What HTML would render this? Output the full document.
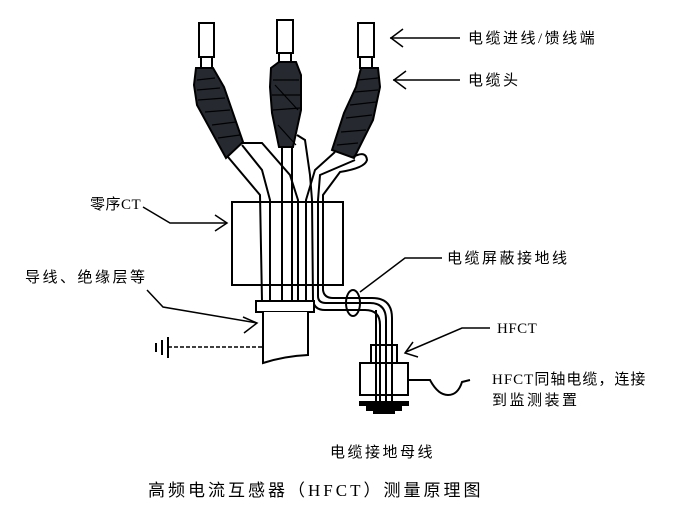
<!DOCTYPE html>
<html><head><meta charset="utf-8"><style>
body{margin:0;background:#fff;}
svg{display:block;}
text{font-family:"Liberation Serif","Noto Sans CJK SC",serif;font-size:15px;fill:#000;letter-spacing:2.5px;}
</style></head><body>
<svg width="675" height="511" viewBox="0 0 675 511" xmlns="http://www.w3.org/2000/svg">
<g fill="none" stroke="#000" stroke-width="2">
<rect x="199" y="23" width="15" height="34" fill="#fff"/>
<rect x="201" y="57" width="11" height="11" fill="#fff"/>
<rect x="277" y="20" width="16" height="33" fill="#fff"/>
<rect x="279" y="53" width="12" height="9" fill="#fff"/>
<rect x="358" y="23" width="16" height="34" fill="#fff"/>
<rect x="360" y="57" width="12" height="11" fill="#fff"/>
</g>
<g fill="#262a30" stroke="#000" stroke-width="2">
<polygon points="196,68 213,68 224,87 243,142 226,158 197,105 194,85"/>
<polygon points="279,62 296,62 301,75 301,110 293,147 279,147 272,113 270,87 271,68"/>
<polygon points="361,68 378,68 380,87 373,120 354,158 332,150 344,113 356,87"/>
</g>
<g stroke="#000" stroke-width="1.2">
<line x1="197" y1="80" x2="215" y2="78"/><line x1="197" y1="90" x2="220" y2="88"/><line x1="198" y1="100" x2="225" y2="98"/><line x1="205" y1="112" x2="230" y2="110"/><line x1="212" y1="125" x2="236" y2="122"/><line x1="218" y1="138" x2="240" y2="135"/>
<line x1="273" y1="80" x2="299" y2="80"/><line x1="272" y1="95" x2="300" y2="95"/><line x1="273" y1="110" x2="300" y2="108"/><line x1="275" y1="85" x2="298" y2="110"/><line x1="278" y1="125" x2="296" y2="145"/>
<line x1="358" y1="80" x2="378" y2="78"/><line x1="355" y1="92" x2="378" y2="90"/><line x1="350" y1="105" x2="376" y2="102"/><line x1="346" y1="118" x2="372" y2="115"/><line x1="341" y1="132" x2="366" y2="130"/><line x1="337" y1="145" x2="358" y2="143"/>
</g>
<g fill="none" stroke="#000" stroke-width="2">
<path d="M228,157 L260,195 L262,301"/>
<path d="M242,145 L262,170 L270,200 L270,301"/>
<path d="M241,143 L262,143 L290,175 L298,200 L298,301"/>
<path d="M282,147 L282,301"/>
<path d="M292,147 L292,301"/>
<path d="M297,135 L305,140 L310,175 L312,200 L313,300 Q314,310 325,310 L365,310 Q380,310 380,325 L380,405"/>
<path d="M335,152 L315,170 L306,200 L306,301"/>
<path d="M355,160 L320,175 L318,200 L318,296 Q318,303 326,303 L370,303 Q386,303 386,320 L386,405"/>
<path d="M353,157 Q366,150 367,160 Q365,168 340,172 L323,195 L323,290 Q324,298 333,298 L372,298 Q392,298 392,318 L392,405"/>
<path d="M376,310 L376,405"/>
</g>
<g fill="none" stroke="#000" stroke-width="2">
<rect x="232" y="202" width="111" height="83" fill="none"/>
<rect x="256" y="301" width="58" height="11" fill="#fff"/>
<path d="M263,312 L263,363 Q285,356 308,355 L308,312" fill="#fff"/>
<ellipse cx="353" cy="303" rx="7" ry="13"/>
<rect x="371" y="345" width="26" height="18" fill="none"/>
<rect x="360" y="363" width="48" height="32" fill="none"/>
<path d="M408,380 L430,380 Q438,395 448,395 Q458,395 462,382 L470,380"/>
</g>
<g fill="#000">
<rect x="359" y="401" width="50" height="5"/>
<rect x="366" y="406" width="36" height="5"/>
<rect x="373" y="411" width="22" height="3"/>
</g>
<line x1="168" y1="347" x2="262" y2="347" stroke="#000" stroke-width="1.5" stroke-dasharray="4,2"/>
<g stroke="#000" stroke-width="2"><line x1="168" y1="337" x2="168" y2="358"/><line x1="162" y1="340" x2="162" y2="355"/><line x1="156" y1="343" x2="156" y2="352"/></g>
<g fill="none" stroke="#000" stroke-width="1.5">
<line x1="390" y1="38" x2="460" y2="38"/><polyline points="403,29 391,38 403,47"/>
<line x1="393" y1="80" x2="460" y2="80"/><polyline points="406,71 394,80 406,89"/>
<polyline points="143,207 170,223 227,223"/><polyline points="215,215 227,223 215,231"/>
<polyline points="147,290 163,307 257,323"/><polyline points="243,317 257,323 244,333"/>
<polyline points="360,292 405,258 442,258"/>
<polyline points="490,328 462,328 406,352"/><polyline points="413,342 405,353 418,357"/>
</g>
<text x="468" y="43">电缆进线/馈线端</text>
<text x="468" y="85">电缆头</text>
<text x="90" y="209" style="letter-spacing:0.5px">零序CT</text>
<text x="25" y="282">导线、绝缘层等</text>
<text x="447" y="263">电缆屏蔽接地线</text>
<text x="497" y="333" style="letter-spacing:0.5px">HFCT</text>
<text x="492" y="384" style="letter-spacing:1px">HFCT同轴电缆，连接</text>
<text x="492" y="405">到监测装置</text>
<text x="330" y="457">电缆接地母线</text>
<text x="148" y="496" style="font-size:17px;letter-spacing:3px">高频电流互感器（HFCT）测量原理图</text>
</svg>
</body></html>
